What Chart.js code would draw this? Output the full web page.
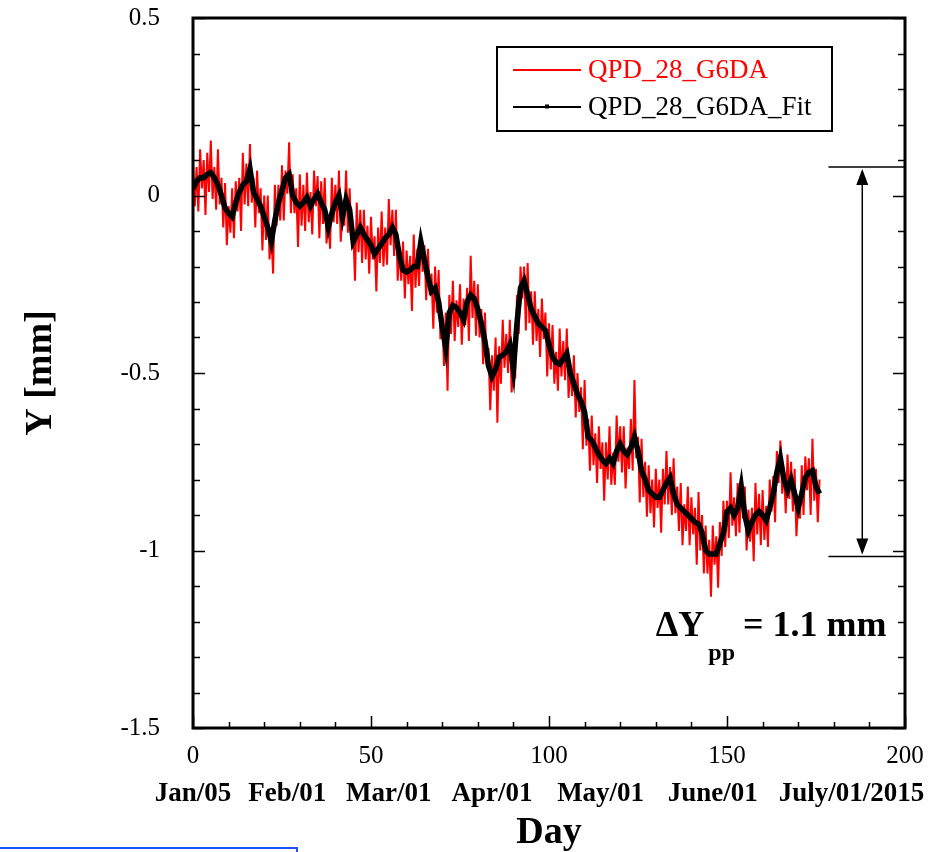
<!DOCTYPE html>
<html>
<head>
<meta charset="utf-8">
<script src="https://cdn.jsdelivr.net/npm/chart.js@4.4.1/dist/chart.umd.min.js"></script>
<style>
  html, body { margin: 0; padding: 0; background: #fff; }
</style>
</head>
<body>
<canvas id="qpdChart" width="942" height="852"></canvas>
<script>
// series names (legend)
const seriesNames = ["QPD_28_G6DA", "QPD_28_G6DA_Fit"];

// raw QPD readings, one every half day from day 0
const rawStep = 0.5;
const rawY = [
  0.09, -0.03, 0.08, -0.045, 0.13, 0.02, 0.10, -0.055, 0.12, 0.01,
  0.155, -0.01, 0.08, -0.04, 0.13, -0.025, 0.05, -0.09, 0.035, -0.14,
  -0.03, -0.105, 0.02, -0.12, 0.04, -0.045, 0.05, -0.10, 0.12, -0.025,
  0.09, -0.03, 0.145, -0.02, 0.05, -0.09, 0.07, -0.05, 0.02, -0.155,
  0.0, -0.125, 0.0, -0.18, -0.10, -0.22, 0.03, -0.085, 0.03, -0.07,
  0.085, -0.07, 0.07, 0.005, 0.15, -0.05, 0.06, -0.05, 0.02, -0.145,
  0.06, -0.085, 0.03, -0.10, 0.065, -0.075, 0.01, -0.11, 0.07, -0.03,
  0.055, -0.12, 0.04, -0.08, 0.05, -0.135, -0.06, -0.15, 0.05, -0.075,
  0.03, -0.08, 0.07, -0.13, -0.04, -0.085, 0.07, -0.105, 0.02, -0.125,
  -0.09, -0.24, -0.02, -0.16, -0.04, -0.19, -0.04, -0.18, -0.085, -0.22,
  -0.06, -0.18, -0.115, -0.27, -0.09, -0.19, -0.045, -0.20, -0.09, -0.195,
  -0.01, -0.14, -0.04, -0.17, -0.04, -0.24, -0.15, -0.24, -0.13, -0.29,
  -0.155, -0.25, -0.17, -0.325, -0.11, -0.26, -0.15, -0.255, -0.11, -0.215,
  -0.14, -0.295, -0.15, -0.28, -0.22, -0.375, -0.20, -0.33, -0.21, -0.405,
  -0.34, -0.48, -0.33, -0.55, -0.28, -0.39, -0.24, -0.41, -0.295, -0.37,
  -0.25, -0.42, -0.29, -0.365, -0.26, -0.41, -0.17, -0.345, -0.24, -0.395,
  -0.25, -0.40, -0.32, -0.475, -0.33, -0.475, -0.43, -0.605, -0.45, -0.55,
  -0.40, -0.64, -0.425, -0.53, -0.35, -0.485, -0.39, -0.50, -0.35, -0.555,
  -0.47, -0.515, -0.28, -0.39, -0.20, -0.29, -0.20, -0.38, -0.19, -0.36,
  -0.27, -0.42, -0.27, -0.41, -0.32, -0.455, -0.29, -0.405, -0.33, -0.51,
  -0.36, -0.49, -0.365, -0.53, -0.44, -0.55, -0.375, -0.51, -0.41, -0.52,
  -0.375, -0.57, -0.48, -0.565, -0.45, -0.625, -0.50, -0.61, -0.54, -0.715,
  -0.52, -0.705, -0.63, -0.775, -0.62, -0.76, -0.67, -0.81, -0.65, -0.77,
  -0.695, -0.86, -0.695, -0.80, -0.65, -0.815, -0.725, -0.815, -0.62, -0.75,
  -0.65, -0.78, -0.65, -0.825, -0.71, -0.77, -0.63, -0.775, -0.52, -0.74,
  -0.68, -0.865, -0.685, -0.85, -0.75, -0.905, -0.76, -0.895, -0.80, -0.935,
  -0.77, -0.88, -0.80, -0.95, -0.77, -0.87, -0.72, -0.87, -0.765, -0.90,
  -0.74, -0.895, -0.82, -0.945, -0.81, -0.985, -0.87, -0.945, -0.82, -0.985,
  -0.85, -0.955, -0.88, -1.04, -0.835, -1.0, -0.90, -1.065, -0.93, -1.065,
  -0.97, -1.13, -0.93, -1.04, -0.96, -1.105, -0.92, -1.015, -0.86, -0.99,
  -0.86, -0.965, -0.78, -0.93, -0.85, -0.96, -0.81, -0.95, -0.80, -0.91,
  -0.82, -1.0, -0.885, -0.975, -0.88, -1.03, -0.81, -0.955, -0.84, -0.985,
  -0.83, -0.97, -0.875, -0.99, -0.80, -0.89, -0.79, -0.92, -0.72, -0.81,
  -0.69, -0.84, -0.77, -0.895, -0.73, -0.855, -0.75, -0.89, -0.77, -0.96,
  -0.86, -0.91, -0.76, -0.90, -0.735, -0.83, -0.74, -0.90, -0.685, -0.86,
  -0.77, -0.92, -0.80
];

// fitted curve, one value per day from day 0
const fitStep = 1;
const fitY = [
  0.02, 0.04, 0.05, 0.05, 0.06, 0.065, 0.05, 0.03, 0.0, -0.035,
  -0.05, -0.06, -0.02, 0.01, 0.03, 0.04, 0.075, 0.01, -0.01, -0.03,
  -0.06, -0.09, -0.13, -0.07, -0.02, 0.015, 0.05, 0.06, 0.0, -0.02,
  -0.03, -0.02, -0.005, -0.03, -0.01, 0.005, -0.02, -0.04, -0.09, -0.05,
  -0.02, 0.0, -0.06, -0.01, -0.04, -0.13, -0.11, -0.09, -0.11, -0.125,
  -0.14, -0.165, -0.15, -0.135, -0.12, -0.11, -0.09, -0.11, -0.17, -0.21,
  -0.215, -0.21, -0.2, -0.2, -0.13, -0.18, -0.23, -0.27, -0.26, -0.3,
  -0.37, -0.43, -0.33, -0.31, -0.315, -0.33, -0.35, -0.3, -0.28, -0.29,
  -0.32, -0.36, -0.41, -0.48, -0.51, -0.49, -0.455, -0.45, -0.44, -0.42,
  -0.49, -0.36, -0.26, -0.24, -0.28, -0.32, -0.34, -0.36, -0.37, -0.38,
  -0.42, -0.455, -0.47, -0.475, -0.46, -0.445, -0.5, -0.53, -0.56, -0.58,
  -0.61, -0.68, -0.69, -0.71, -0.73, -0.745, -0.755, -0.74, -0.755, -0.72,
  -0.7, -0.72, -0.73, -0.71, -0.68, -0.72, -0.775, -0.8, -0.83, -0.84,
  -0.85, -0.85, -0.83, -0.81, -0.795, -0.84, -0.87, -0.88, -0.89, -0.9,
  -0.91, -0.92, -0.925, -0.95, -1.0, -1.01, -1.01, -1.01, -0.98, -0.95,
  -0.89, -0.88, -0.9, -0.88, -0.82, -0.9, -0.945, -0.92, -0.9, -0.89,
  -0.9, -0.915, -0.88, -0.84, -0.78, -0.74, -0.8, -0.83, -0.8, -0.84,
  -0.88, -0.84, -0.795, -0.78, -0.775, -0.82, -0.84
];

// axis ticks
const xTicks = [0, 50, 100, 150, 200];
const yTicks = [-1.5, -1, -0.5, 0, 0.5];
const dateLabels = ["Jan/05", "Feb/01", "Mar/01", "Apr/01", "May/01", "June/01", "July/01/2015"];
const dateDays = [0, 26.5, 55, 84, 114.5, 146, 185];

// peak to peak marker
const ppTop = 0.08;
const ppBottom = -1.017;
const ppText = "= 1.1 mm";

const serif = "'Liberation Serif', 'Times New Roman', serif";

const rawPoints = rawY.map((v, i) => ({ x: i * rawStep, y: v }));
const fitPoints = fitY.map((v, i) => ({ x: i * fitStep, y: v }));

// frame with inward ticks, legend box and the ΔY arrow
const framePlugin = {
  id: "frame",
  afterDatasetsDraw(chart) {
    const { ctx, chartArea: a, scales } = chart;
    const x = scales.x, y = scales.y;
    ctx.save();

    // ticks (left, right, bottom)
    ctx.strokeStyle = "#000";
    ctx.lineWidth = 1.5;
    ctx.beginPath();
    for (let i = -15; i <= 5; i++) {
      const py = Math.round(y.getPixelForValue(i / 10)) + 0.5;
      const len = i % 5 === 0 ? 12 : 7;
      ctx.moveTo(a.left, py); ctx.lineTo(a.left + len, py);
      ctx.moveTo(a.right, py); ctx.lineTo(a.right - len, py);
    }
    for (let d = 0; d <= 200; d += 10) {
      const px = Math.round(x.getPixelForValue(d)) + 0.5;
      const len = d % 50 === 0 ? 12 : 6;
      ctx.moveTo(px, a.bottom); ctx.lineTo(px, a.bottom - len);
    }
    ctx.stroke();

    // frame
    ctx.lineWidth = 3;
    ctx.strokeRect(a.left, a.top, a.right - a.left, a.bottom - a.top);

    // ΔY arrow
    const yTop = y.getPixelForValue(ppTop);
    const yBot = y.getPixelForValue(ppBottom);
    const xl = x.getPixelForValue(178.5);
    const xa = x.getPixelForValue(188);
    ctx.lineWidth = 1.5;
    ctx.beginPath();
    ctx.moveTo(xl, yTop); ctx.lineTo(a.right, yTop);
    ctx.moveTo(xl, yBot); ctx.lineTo(a.right, yBot);
    ctx.moveTo(xa, yTop + 4); ctx.lineTo(xa, yBot - 4);
    ctx.stroke();
    ctx.fillStyle = "#000";
    ctx.beginPath();
    ctx.moveTo(xa, yTop + 2); ctx.lineTo(xa - 6, yTop + 18); ctx.lineTo(xa + 6, yTop + 18); ctx.closePath();
    ctx.moveTo(xa, yBot - 2); ctx.lineTo(xa - 6, yBot - 18); ctx.lineTo(xa + 6, yBot - 18); ctx.closePath();
    ctx.fill();

    // ΔYpp label
    const lx = x.getPixelForValue(130);
    const ly = y.getPixelForValue(-1.242);
    ctx.textBaseline = "alphabetic";
    ctx.textAlign = "left";
    ctx.font = "bold 36px " + serif;
    ctx.fillText("\u0394Y", lx, ly);
    const w1 = ctx.measureText("\u0394Y").width;
    ctx.font = "bold 24px " + serif;
    ctx.fillText("pp", lx + w1 + 4, ly + 24);
    const w2 = ctx.measureText("pp").width;
    ctx.font = "bold 36px " + serif;
    ctx.fillText(ppText, lx + w1 + w2 + 12, ly);

    // legend
    const bx = a.left + 304, by = a.top + 29, bw = 335, bh = 84;
    ctx.lineWidth = 2;
    ctx.strokeStyle = "#000";
    ctx.strokeRect(bx, by, bw, bh);
    ctx.font = "27px " + serif;
    ctx.textBaseline = "middle";
    const rows = [
      { name: seriesNames[0], color: "#ff0000", y: by + 23 },
      { name: seriesNames[1], color: "#000000", y: by + 60 }
    ];
    rows.forEach((r, i) => {
      ctx.strokeStyle = r.color;
      ctx.lineWidth = 2;
      ctx.beginPath();
      ctx.moveTo(bx + 16, r.y); ctx.lineTo(bx + 84, r.y);
      ctx.stroke();
      if (i === 1) { ctx.fillStyle = "#000"; ctx.fillRect(bx + 48, r.y - 2.5, 4, 4); }
      ctx.fillStyle = r.color;
      ctx.fillText(r.name, bx + 91, r.y + 1);
    });

    ctx.restore();
  },
  afterDraw(chart) {
    // blue edge at the bottom left of the original capture
    const ctx = chart.ctx;
    ctx.save();
    ctx.strokeStyle = "#1f4fff";
    ctx.lineWidth = 2;
    ctx.beginPath();
    ctx.moveTo(0, 848); ctx.lineTo(297, 848); ctx.lineTo(297, 852);
    ctx.stroke();
    ctx.restore();
  }
};

const ctx = document.getElementById("qpdChart");

new Chart(ctx, {
  type: "line",
  data: {
    datasets: [
      {
        label: seriesNames[0],
        data: rawPoints,
        borderColor: "#ff0000",
        borderWidth: 2,
        pointRadius: 0,
        tension: 0,
        order: 1
      },
      {
        label: seriesNames[1],
        data: fitPoints,
        borderColor: "#000000",
        borderWidth: 5.5,
        pointRadius: 0,
        tension: 0,
        order: 0
      }
    ]
  },
  options: {
    responsive: false,
    animation: false,
    devicePixelRatio: 1,
    layout: { padding: { top: 18, right: 37, left: 0, bottom: 0 } },
    plugins: { legend: { display: false }, tooltip: { enabled: false } },
    scales: {
      x: {
        type: "linear",
        min: 0,
        max: 200,
        position: "bottom",
        weight: 0,
        afterBuildTicks: (s) => { s.ticks = xTicks.map((v) => ({ value: v })); },
        grid: { display: false, drawTicks: false },
        border: { display: false },
        ticks: {
          padding: 13,
          color: "#000",
          maxRotation: 0,
          autoSkip: false,
          font: { family: serif, size: 25 }
        },
        afterFit: (s) => { s.height = 40; s.paddingLeft = 0; s.paddingRight = 0; }
      },
      x2: {
        type: "linear",
        min: 0,
        max: 200,
        position: "bottom",
        weight: 1,
        afterBuildTicks: (s) => { s.ticks = dateDays.map((v) => ({ value: v })); },
        grid: { display: false, drawTicks: false },
        border: { display: false },
        ticks: {
          padding: 10,
          color: "#000",
          maxRotation: 0,
          autoSkip: false,
          font: { family: serif, size: 27, weight: "bold" },
          callback: (v, i) => dateLabels[i]
        },
        title: {
          display: true,
          text: "Day",
          color: "#000",
          padding: { top: 0, bottom: -4 },
          font: { family: serif, size: 38, weight: "bold" }
        },
        afterFit: (s) => { s.height = 84; s.paddingLeft = 0; s.paddingRight = 0; }
      },
      y: {
        type: "linear",
        min: -1.5,
        max: 0.5,
        afterBuildTicks: (s) => { s.ticks = yTicks.map((v) => ({ value: v })); },
        grid: { display: false, drawTicks: false },
        border: { display: false },
        ticks: {
          padding: 33,
          color: "#000",
          font: { family: serif, size: 25 },
          callback: (v) => String(v)
        },
        title: {
          display: true,
          text: "Y [mm]",
          color: "#000",
          padding: { top: 18, bottom: 0 },
          font: { family: serif, size: 38, weight: "bold" }
        },
        afterFit: (s) => { s.width = 193; s.paddingTop = 0; s.paddingBottom = 0; }
      }
    }
  },
  plugins: [framePlugin]
});
</script>
</body>
</html>
